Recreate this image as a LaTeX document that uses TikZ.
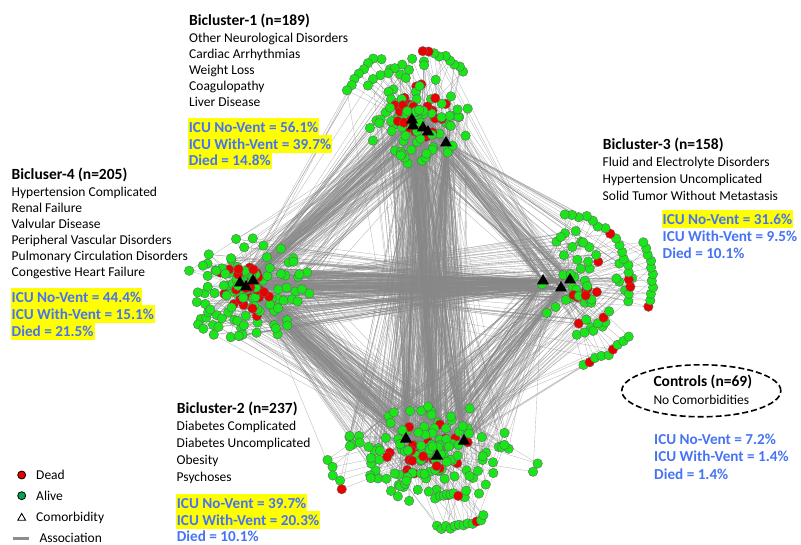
\documentclass[tikz,border=0pt]{standalone}
\usepackage{fontspec}
\setmainfont{Carlito}
\usetikzlibrary{shapes.geometric}
\definecolor{alive}{RGB}{25,230,25}
\definecolor{dead}{RGB}{235,0,0}
\definecolor{legalive}{RGB}{0,165,80}
\definecolor{statblue}{RGB}{70,115,245}
\definecolor{hl}{RGB}{255,255,0}
\definecolor{edgegray}{RGB}{135,135,135}
\tikzset{
  dot/.style={circle,inner sep=0pt,minimum size=9.5pt,draw=black!60,line width=0.4pt},
  hubtri/.style={regular polygon,regular polygon sides=3,minimum size=14pt,inner sep=0pt,fill=black},
  assoc/.style={draw=edgegray,line width=0.33pt,opacity=0.62},
  title/.style={anchor=base west,inner sep=0pt,font=\bfseries\fontsize{15.5}{18}\selectfont},
  body/.style={anchor=base west,inner sep=0pt,font=\fontsize{13.5}{16}\selectfont},
  stat/.style={anchor=base west,inner xsep=1pt,inner ysep=0pt,text height=14.5pt,text depth=3.5pt,
    font=\bfseries\fontsize{15.2}{18}\selectfont,text=statblue},
  hstat/.style={stat,fill=hl},
  legtext/.style={anchor=base west,inner sep=0pt,font=\fontsize{13.5}{16}\selectfont},
}
\begin{document}
\begin{tikzpicture}[x=1pt,y=-1pt]
\useasboundingbox (0,0) rectangle (801,545);
% hubs (comorbidities)
\coordinate (h1-1) at (412,123); \coordinate (h1-2) at (425,129); \coordinate (h1-3) at (446,143);
\coordinate (h4-1) at (240,283); \coordinate (h4-2) at (246,287); \coordinate (h4-3) at (253,281);
\coordinate (h3-1) at (543,281); \coordinate (h3-2) at (561,288); \coordinate (h3-3) at (570,280);
\coordinate (h2-1) at (406,439); \coordinate (h2-2) at (437,456); \coordinate (h2-3) at (464,441);
\pgfmathsetseed{11}
% pass 1: positions of patients and their associations
\foreach \c/\cx/\cy/\rx/\ry/\n in {1/418/112/54/54/125, 4/246/288/64/56/150, 3/585/288/50/68/50, 2/430/452/85/52/170}{
  \foreach \k in {1,...,\n}{
    \pgfmathsetmacro\ang{360*rnd}
    \pgfmathsetmacro\rr{pow(rnd,1.05)}
    \pgfmathsetmacro\px{\cx+\rx*\rr*cos(\ang)}
    \pgfmathsetmacro\py{\cy+\ry*\rr*sin(\ang)}
    \pgfmathtruncatemacro\isd{(rnd<0.32)*(\rr<0.55)}
    \ifnum\isd=1 \expandafter\xdef\csname pcol\c-\k\endcsname{dead}%
    \else\expandafter\xdef\csname pcol\c-\k\endcsname{alive}\fi
    \pgfmathtruncatemacro\oh{random(1,3)}
    \pgfmathtruncatemacro\op{\c+1-2*mod(\c+1,2)}
    \pgfmathtruncatemacro\opk{random(1,3)}
    \pgfmathtruncatemacro\oc{mod(\c-1+random(1,3),4)+1}
    \pgfmathtruncatemacro\ot{random(1,3)}
    \pgfmathtruncatemacro\od{mod(\c-1+random(1,3),4)+1}
    \pgfmathtruncatemacro\ou{random(1,3)}
    \coordinate (b\c-\k) at (\px,\py);
    \draw[assoc] (b\c-\k) -- (h\c-\oh);
    \draw[assoc] (b\c-\k) -- (h\op-\opk);
    \draw[assoc] (b\c-\k) -- (h\oc-\ot);
    \draw[assoc] (b\c-\k) -- (h\od-\ou);
  }
}
\foreach \c/\cx/\cy/\r/\aa/\ab/\n [count=\j] in {
  1/415/125/76/117/153/8, 1/415/125/74/48/84/9, 1/415/125/60/102/140/6,
  3/560/283/70/-15/86/18, 3/560/283/92/-15/26/11, 3/560/283/85/-74/-38/9, 3/560/283/56/-72/-30/6,
  2/440/440/88/-92/-60/12, 2/440/440/57/-90/-72/6, 2/406/439/80/195/218/5, 2/464/441/76/-24/-17/2}{
  \foreach \k in {1,...,\n}{
    \pgfmathsetmacro\ang{\aa+(\ab-\aa)*(\k-1)/max(\n-1,1)}
    \pgfmathsetmacro\rj{\r+2.5*rand}
    \pgfmathsetmacro\px{\cx+\rj*cos(\ang)}
    \pgfmathsetmacro\py{\cy-\rj*sin(\ang)}
    \pgfmathtruncatemacro\oh{random(1,3)}
    \pgfmathtruncatemacro\oc{mod(\c-1+random(1,3),4)+1}
    \pgfmathtruncatemacro\ot{random(1,3)}
    \coordinate (a\j-\k) at (\px,\py);
    \draw[assoc] (a\j-\k) -- (h\c-\oh);
    \draw[assoc] (a\j-\k) -- (h\oc-\ot);
  }
}
% pass 2: patient dots
\foreach \c/\n in {1/125,4/150,3/50,2/170}{
  \foreach \k in {1,...,\n}{
    \node[dot,fill=\csname pcol\c-\k\endcsname] (nb\c-\k) at (b\c-\k) {};
  }
}
\foreach \n [count=\j] in {8,9,6,18,11,9,6,12,6,5,2}{
  \foreach \k in {1,...,\n}{
    \pgfmathtruncatemacro\isd{rnd<0.08}
    \ifnum\isd=1 \def\col{dead}\else\def\col{alive}\fi
    \node[dot,fill=\col] (na\j-\k) at (a\j-\k) {};
  }
}
% comorbidity triangles
\foreach \p [count=\i] in {(412,120),(413,126),(423,128),(428,132),(446,143),
  (240,283),(246,287),(253,281),(543,281),(561,288),(570,280),(406,439),(437,456),(464,441)}
  \node[hubtri] (T\i) at \p {};

% ---- texts ----
\node[title] (t1) at (189,25.5) {Bicluster-1 (n=189)};
\foreach \t [count=\i] in {Other Neurological Disorders,Cardiac Arrhythmias,Weight Loss,Coagulopathy,Liver Disease}
  \node[body] (b1l\i) at (189,{42.3+16.1*(\i-1)}) {\t};
\node[hstat] (s1a) at (187.7,132.7) {ICU No-Vent = 56.1\%};
\node[hstat] (s1b) at (187.7,149.2) {ICU With-Vent = 39.7\%};
\node[hstat] (s1c) at (187.7,165.7) {Died = 14.8\%};

\node[title] (t4) at (11.5,180) {Bicluser-4 (n=205)};
\foreach \t [count=\i] in {Hypertension Complicated,Renal Failure,Valvular Disease,Peripheral Vascular Disorders,Pulmonary Circulation Disorders,Congestive Heart Failure}
  \node[body] (b4l\i) at (11.5,{196.7+16*(\i-1)}) {\t};
\node[hstat] (s4a) at (10.5,302.7) {ICU No-Vent = 44.4\%};
\node[hstat] (s4b) at (10.5,319.5) {ICU With-Vent = 15.1\%};
\node[hstat] (s4c) at (10.5,336.3) {Died = 21.5\%};

\node[title] (t3) at (602.7,150) {Bicluster-3 (n=158)};
\foreach \t [count=\i] in {Fluid and Electrolyte Disorders,Hypertension Uncomplicated,Solid Tumor Without Metastasis}
  \node[body] (b3l\i) at (602.5,{166.7+16.7*(\i-1)}) {\t};
\node[hstat] (s3a) at (661.5,224.3) {ICU No-Vent = 31.6\%};
\node[stat] (s3b) at (661.5,241.7) {ICU With-Vent = 9.5\%};
\node[stat] (s3c) at (661.5,259) {Died = 10.1\%};

\node[title] (t2) at (176.7,413.3) {Bicluster-2 (n=237)};
\foreach \t [count=\i] in {Diabetes Complicated,Diabetes Uncomplicated,Obesity,Psychoses}
  \node[body] (b2l\i) at (176.5,{430.7+16.8*(\i-1)}) {\t};
\node[hstat] (s2a) at (175.7,508.6) {ICU No-Vent = 39.7\%};
\node[hstat] (s2b) at (175.7,525.1) {ICU With-Vent = 20.3\%};
\node[stat] (s2c) at (175.7,541.3) {Died = 10.1\%};

\node[ellipse,draw,line width=1.6pt,dash pattern=on 6pt off 3pt,minimum width=159pt,minimum height=52pt] (ctl) at (701.3,390.8) {};
\node[title] (tc) at (653.3,386.7) {Controls (n=69)};
\node[body] (bc) at (653.3,404) {No Comorbidities};
\node[stat] (sca) at (653,444.3) {ICU No-Vent = 7.2\%};
\node[stat] (scb) at (653,461.7) {ICU With-Vent = 1.4\%};
\node[stat] (scc) at (653,479) {Died = 1.4\%};

% ---- legend ----
\node[circle,inner sep=0pt,minimum size=8pt,fill=dead,draw=black,line width=0.8pt] (ld) at (21.7,475) {};
\node[legtext] (ldt) at (36,479.5) {Dead};
\node[circle,inner sep=0pt,minimum size=8pt,fill=legalive,draw=black,line width=0.8pt] (la) at (21.7,495.7) {};
\node[legtext] (lat) at (36,500) {Alive};
\node[regular polygon,regular polygon sides=3,minimum size=9pt,inner sep=0pt,draw=black,line width=0.9pt] (lc) at (21.7,518) {};
\node[legtext] (lct) at (36,521.7) {Comorbidity};
\coordinate (lla) at (13.3,538.7); \coordinate (llb) at (29,538.7);
\draw[line width=2.6pt,draw=black!45] (lla) -- (llb);
\node[legtext] (llt) at (39.3,542.3) {Association};
\end{tikzpicture}
\end{document}
